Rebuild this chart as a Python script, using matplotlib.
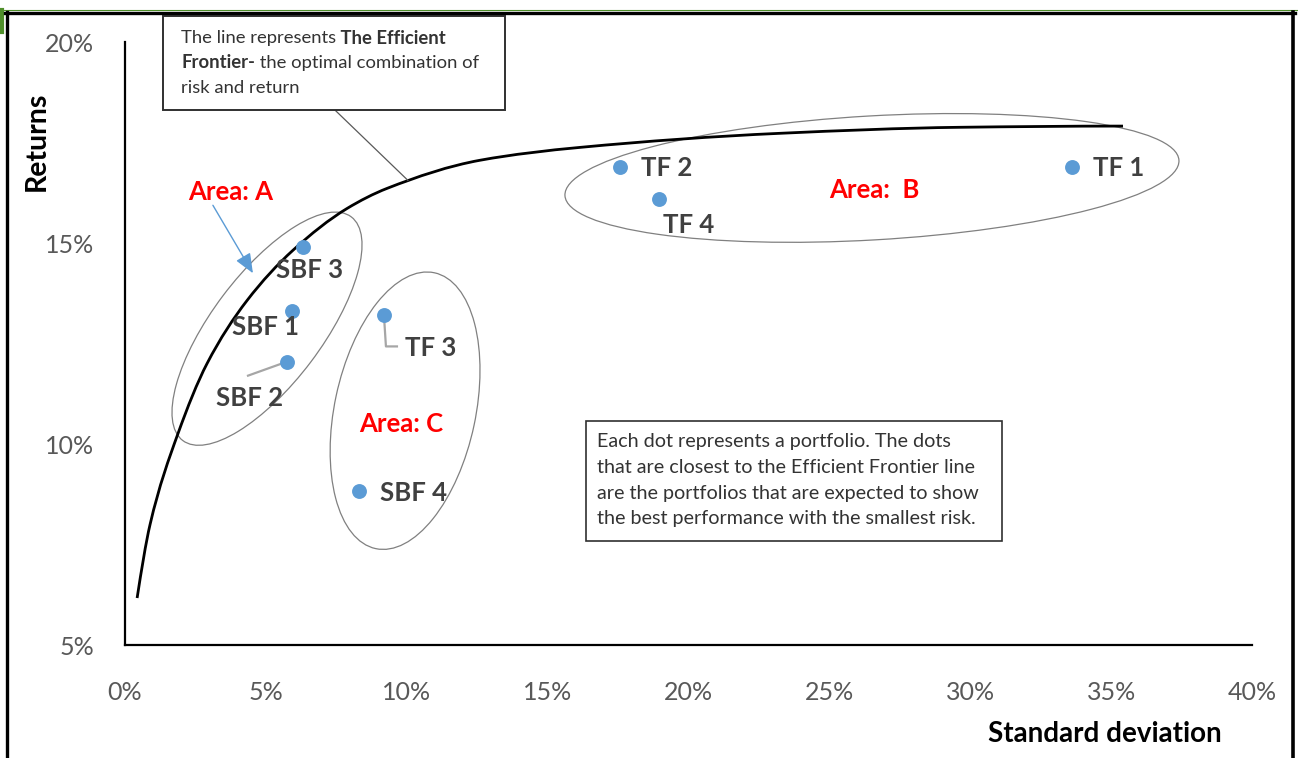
import matplotlib
matplotlib.use("Agg")
import matplotlib.pyplot as plt
from matplotlib.patches import Ellipse, Rectangle, PathPatch
from matplotlib.path import Path
from matplotlib.lines import Line2D
from matplotlib.transforms import ScaledTranslation, IdentityTransform

plt.rcParams['font.family'] = ['Lato', 'DejaVu Sans']

# efficient frontier (standard deviation %, return %)
frontier_sd = [0.43, 0.89, 1.88, 2.91, 4.33, 5.96, 7.88, 9.30, 12.60, 16.15, 23.24, 29.63, 35.42]
frontier_ret = [6.17, 8.00, 10.26, 12.00, 13.57, 14.82, 15.86, 16.36, 17.06, 17.38, 17.73, 17.88, 17.91]

# portfolios
portfolio_names = ['TF 1', 'TF 2', 'TF 3', 'TF 4', 'SBF 1', 'SBF 2', 'SBF 3', 'SBF 4']
portfolio_sd = [33.6, 17.57, 9.19, 18.95, 5.93, 5.75, 6.32, 8.30]
portfolio_ret = [16.9, 16.9, 13.2, 16.1, 13.3, 12.05, 14.9, 8.84]

x_ticks = [0, 5, 10, 15, 20, 25, 30, 35, 40]
y_ticks = [5, 10, 15, 20]

BLUE = '#5B9BD5'
GREY_TXT = '#595959'
LABEL_TXT = '#404040'

fig = plt.figure(figsize=(12.98, 7.58), dpi=100)
ax = fig.add_axes([0.0963, 0.149, 0.8683, 0.7955])


def px_offset(x, y):
    # pixel offsets anchored at a data point
    return IdentityTransform() + ScaledTranslation(x, y, ax.transData)


def ring(x, y, w, h, angle):
    ax.add_patch(Ellipse((0, 0), w, h, angle=angle, fill=False, ec='#808080', lw=0.9,
                         transform=px_offset(x, y), clip_on=False, zorder=1))


def smooth_path(xs, ys):
    # shape-preserving cubic (pchip tangents) drawn as bezier segments through the points
    n = len(xs)
    h = [xs[k + 1] - xs[k] for k in range(n - 1)]
    d = [(ys[k + 1] - ys[k]) / h[k] for k in range(n - 1)]
    m = [0.0] * n
    for k in range(1, n - 1):
        if d[k - 1] * d[k] > 0:
            w1, w2 = 2 * h[k] + h[k - 1], h[k] + 2 * h[k - 1]
            m[k] = (w1 + w2) / (w1 / d[k - 1] + w2 / d[k])
    m[0] = ((2 * h[0] + h[1]) * d[0] - h[0] * d[1]) / (h[0] + h[1])
    m[0] = min(max(m[0], 0), 3 * d[0])
    m[-1] = ((2 * h[-1] + h[-2]) * d[-1] - h[-1] * d[-2]) / (h[-1] + h[-2])
    m[-1] = min(max(m[-1], 0), 3 * d[-1])
    verts, codes = [(xs[0], ys[0])], [Path.MOVETO]
    for k in range(n - 1):
        verts += [(xs[k] + h[k] / 3, ys[k] + m[k] * h[k] / 3),
                  (xs[k + 1] - h[k] / 3, ys[k + 1] - m[k + 1] * h[k] / 3),
                  (xs[k + 1], ys[k + 1])]
        codes += [Path.CURVE4] * 3
    return Path(verts, codes)


# frontier and dots
ax.add_patch(PathPatch(smooth_path(frontier_sd, frontier_ret), fill=False, ec='black',
                       lw=2.0, zorder=2))
ax.scatter(portfolio_sd, portfolio_ret, s=115, color=BLUE, zorder=4, linewidths=0)

# point labels, offsets in pixels from each dot
label_offsets = {'TF 1': (21, -1), 'TF 2': (21, -1), 'TF 3': (21, -33), 'TF 4': (4, -26),
                 'SBF 1': (-60, -16), 'SBF 2': (-71, -36), 'SBF 3': (-27, -23),
                 'SBF 4': (21, -2)}
for name, x, y in zip(portfolio_names, portfolio_sd, portfolio_ret):
    ax.annotate(name, (x, y), xytext=label_offsets[name], textcoords='offset pixels',
                ha='left', va='center', fontsize=18.5, fontweight='bold', color=LABEL_TXT,
                zorder=5)

# leader lines for SBF 2 and TF 3
i = portfolio_names.index('SBF 2')
ax.plot([0, -39], [0, -14], color='#a6a6a6', lw=1.6,
        transform=px_offset(portfolio_sd[i], portfolio_ret[i]), zorder=3)
i = portfolio_names.index('TF 3')
ax.plot([0, 2, 13], [0, -31, -31], color='#a6a6a6', lw=1.6,
        transform=px_offset(portfolio_sd[i], portfolio_ret[i]), zorder=3)

# group rings
ring(5.04, 12.87, 280, 110, 53)
ring(9.94, 10.83, 282, 141, 78)
ring(26.51, 16.62, 615, 124, 3.3)

# area labels
area_kw = dict(color='red', fontsize=18.5, fontweight='bold', va='center')
ax.text(2.24, 16.26, 'Area: A', **area_kw)
ax.text(24.98, 16.31, 'Area:  B', **area_kw)
ax.text(8.30, 10.51, 'Area: C', **area_kw)
ax.annotate('', xy=(4.54, 14.25), xytext=(3.12, 15.94),
            arrowprops=dict(arrowstyle='-|>,head_length=1.2,head_width=0.5',
                            color=BLUE, lw=1, shrinkA=0, shrinkB=0))

# frontier note box
ax.add_patch(Rectangle((1.35, 18.31), 12.13, 2.34, fc='white', ec='#303030', lw=1.4,
                       clip_on=False, zorder=6))
ax.plot([7.45, 10.04], [18.31, 16.56], color=GREY_TXT, lw=0.9, zorder=3)
note_kw = dict(fontsize=13.3, color='#333333', va='center', ha='left', zorder=7,
               annotation_clip=False)
t = ax.annotate('The line represents', (1.99, 20.10), **note_kw)
ax.annotate(' The Efficient', (1, 0.5), xycoords=t, fontweight='bold', **note_kw)
t = ax.annotate('Frontier-', (1.99, 19.48), fontweight='bold', **note_kw)
ax.annotate(' the optimal combination of', (1, 0.5), xycoords=t, **note_kw)
ax.annotate('risk and return', (1.99, 18.85), **note_kw)

# portfolio note box
ax.add_patch(Rectangle((16.36, 7.59), 14.76, 2.99, fc='white', ec='#303030', lw=1.2,
                       zorder=6))
ax.text(16.75, 9.10,
        'Each dot represents a portfolio. The dots\n'
        'that are closest to the Efficient Frontier line\n'
        'are the portfolios that are expected to show\n'
        'the best performance with the smallest risk.',
        fontsize=14.2, color='#333333', va='center', ha='left', linespacing=1.62, zorder=7)

# axes styling
ax.set_xlim(0, 40)
ax.set_ylim(5, 20)
ax.set_xticks(x_ticks)
ax.set_yticks(y_ticks)
ax.xaxis.set_major_formatter(lambda v, p: f'{v:.0f}%')
ax.yaxis.set_major_formatter(lambda v, p: f'{v:.0f}%')
ax.tick_params(axis='both', length=0, labelsize=18, labelcolor=GREY_TXT)
ax.tick_params(axis='x', pad=26)
ax.tick_params(axis='y', pad=22)
for side in ['top', 'right']:
    ax.spines[side].set_visible(False)
for side in ['left', 'bottom']:
    ax.spines[side].set_linewidth(1.6)
    ax.spines[side].set_color('black')

ax.text(-0.078, 0.836, 'Returns', transform=ax.transAxes, rotation=90, fontsize=20.5,
        fontweight='bold', ha='center', va='center', color='black')
ax.text(0.869, -0.148, 'Standard deviation', transform=ax.transAxes, fontsize=20,
        fontweight='bold', ha='center', va='center', color='black')

# outer frame
W, H = 1298, 758
def frame(xs, ys, color, lw):
    fig.add_artist(Line2D([x / W for x in xs], [1 - y / H for y in ys],
                          transform=fig.transFigure, color=color, lw=lw))

frame([0, 1298], [10, 10], '#4f8f2a', 0.8)
frame([2, 2], [10, 32], '#4f8f2a', 3)
frame([5, 1295], [13, 13], 'black', 2.4)
frame([7, 7], [12, 758], 'black', 2.4)
frame([1293, 1293], [12, 758], 'black', 2.6)

fig.savefig('out.png', dpi=100)
